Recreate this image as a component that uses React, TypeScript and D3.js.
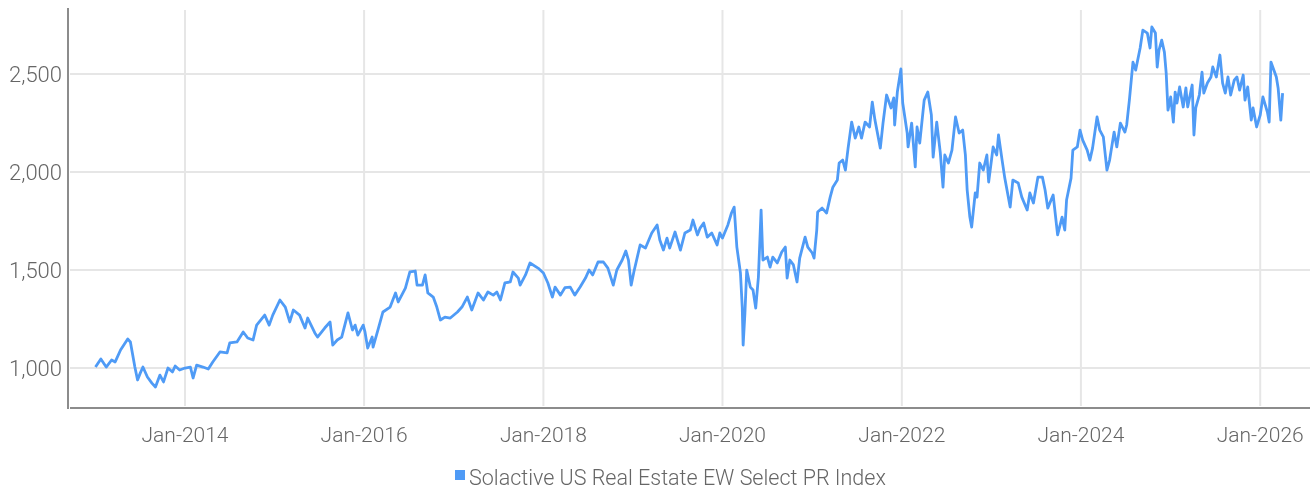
import { useEffect, useRef } from 'react';
import * as d3 from 'd3';

// dates as decimal years
const dates = [
  2013.0, 2013.06, 2013.12, 2013.18, 2013.22, 2013.28, 2013.36, 2013.39, 2013.44, 2013.47,
  2013.5, 2013.53, 2013.58, 2013.63, 2013.67, 2013.72, 2013.76, 2013.81, 2013.86, 2013.89,
  2013.94, 2014.0, 2014.06, 2014.09, 2014.13, 2014.2, 2014.26, 2014.31, 2014.39, 2014.47,
  2014.5, 2014.58, 2014.65, 2014.7, 2014.76, 2014.8, 2014.89, 2014.94, 2014.98, 2015.06,
  2015.12, 2015.17, 2015.21, 2015.28, 2015.34, 2015.37, 2015.45, 2015.48, 2015.56, 2015.62,
  2015.65, 2015.7, 2015.75, 2015.82, 2015.87, 2015.9, 2015.93, 2015.99, 2016.01, 2016.04,
  2016.09, 2016.1, 2016.16, 2016.21, 2016.29, 2016.35, 2016.38, 2016.46, 2016.51, 2016.57,
  2016.59, 2016.65, 2016.68, 2016.71, 2016.77, 2016.81, 2016.85, 2016.9, 2016.96, 2017.04,
  2017.09, 2017.15, 2017.2, 2017.27, 2017.33, 2017.38, 2017.44, 2017.48, 2017.52, 2017.57,
  2017.63, 2017.66, 2017.72, 2017.74, 2017.8, 2017.85, 2017.94, 2018.0, 2018.05, 2018.1,
  2018.13, 2018.19, 2018.24, 2018.3, 2018.35, 2018.41, 2018.47, 2018.51, 2018.55, 2018.61,
  2018.67, 2018.72, 2018.78, 2018.82, 2018.88, 2018.92, 2018.95, 2018.98, 2019.01, 2019.08,
  2019.14, 2019.21, 2019.27, 2019.3, 2019.34, 2019.38, 2019.41, 2019.47, 2019.53, 2019.58,
  2019.64, 2019.67, 2019.72, 2019.75, 2019.79, 2019.83, 2019.88, 2019.94, 2019.97, 2020.0,
  2020.06, 2020.1, 2020.13, 2020.16, 2020.2, 2020.22, 2020.23, 2020.25, 2020.27, 2020.31,
  2020.34, 2020.37, 2020.4, 2020.43, 2020.45, 2020.5, 2020.53, 2020.56, 2020.61, 2020.66,
  2020.7, 2020.72, 2020.75, 2020.79, 2020.83, 2020.86, 2020.92, 2020.95, 2021.0, 2021.02,
  2021.05, 2021.06, 2021.11, 2021.16, 2021.2, 2021.23, 2021.28, 2021.3, 2021.34, 2021.37,
  2021.4, 2021.44, 2021.48, 2021.52, 2021.55, 2021.59, 2021.64, 2021.67, 2021.7, 2021.76,
  2021.79, 2021.83, 2021.88, 2021.91, 2021.92, 2021.95, 2021.99, 2022.01, 2022.06, 2022.07,
  2022.11, 2022.15, 2022.17, 2022.2, 2022.25, 2022.29, 2022.33, 2022.35, 2022.39, 2022.43,
  2022.46, 2022.48, 2022.52, 2022.56, 2022.6, 2022.64, 2022.68, 2022.71, 2022.73, 2022.76,
  2022.78, 2022.82, 2022.84, 2022.87, 2022.91, 2022.95, 2022.97, 2023.02, 2023.06, 2023.08,
  2023.12, 2023.15, 2023.21, 2023.24, 2023.3, 2023.34, 2023.4, 2023.43, 2023.47, 2023.52,
  2023.57, 2023.6, 2023.63, 2023.69, 2023.74, 2023.79, 2023.82, 2023.84, 2023.89, 2023.91,
  2023.96, 2023.99, 2024.02, 2024.07, 2024.1, 2024.13, 2024.18, 2024.21, 2024.25, 2024.29,
  2024.32, 2024.37, 2024.4, 2024.44, 2024.49, 2024.51, 2024.54, 2024.58, 2024.61, 2024.66,
  2024.69, 2024.74, 2024.77, 2024.79, 2024.83, 2024.85, 2024.87, 2024.9, 2024.93, 2024.95,
  2024.97, 2025.0, 2025.03, 2025.05, 2025.07, 2025.1, 2025.14, 2025.17, 2025.19, 2025.24,
  2025.26, 2025.28, 2025.32, 2025.35, 2025.37, 2025.41, 2025.45, 2025.47, 2025.51, 2025.55,
  2025.58, 2025.61, 2025.64, 2025.67, 2025.71, 2025.74, 2025.77, 2025.81, 2025.83, 2025.86,
  2025.9, 2025.92, 2025.96, 2026.0, 2026.03, 2026.08, 2026.1, 2026.12, 2026.14, 2026.18,
  2026.2, 2026.23, 2026.25,
];

const indexValues = [
  1005, 1046, 1005, 1041, 1031, 1092, 1148, 1133, 1005, 939,
  974, 1005, 954, 923, 903, 964, 929, 1000, 980, 1010,
  990, 1000, 1005, 949, 1015, 1005, 995, 1031, 1082, 1077,
  1128, 1133, 1184, 1153, 1143, 1219, 1270, 1219, 1270, 1347,
  1311, 1235, 1296, 1270, 1204, 1255, 1179, 1158, 1204, 1235,
  1117, 1143, 1158, 1281, 1194, 1219, 1168, 1219, 1184, 1102,
  1158, 1107, 1204, 1286, 1311, 1383, 1337, 1408, 1490, 1495,
  1423, 1423, 1475, 1383, 1362, 1311, 1245, 1260, 1255, 1286,
  1311, 1362, 1296, 1383, 1347, 1388, 1372, 1388, 1347, 1434,
  1439, 1490, 1459, 1423, 1475, 1536, 1510, 1485, 1434, 1362,
  1413, 1372, 1410, 1413, 1372, 1413, 1459, 1500, 1475, 1541,
  1541, 1510, 1423, 1500, 1551, 1597, 1551, 1423, 1490, 1628,
  1612, 1689, 1730, 1653, 1602, 1663, 1612, 1694, 1602, 1689,
  1704, 1755, 1679, 1714, 1740, 1668, 1689, 1628, 1689, 1663,
  1730, 1791, 1821, 1617, 1485, 1311, 1117, 1281, 1500, 1413,
  1398, 1306, 1464, 1806, 1551, 1566, 1515, 1566, 1536, 1592,
  1617, 1459, 1551, 1526, 1439, 1561, 1668, 1617, 1587, 1561,
  1704, 1796, 1816, 1791, 1872, 1923, 1959, 2046, 2061, 2010,
  2122, 2255, 2173, 2230, 2173, 2255, 2230, 2357, 2265, 2122,
  2250, 2393, 2327, 2378, 2240, 2408, 2526, 2352, 2199, 2128,
  2250, 2026, 2230, 2148, 2367, 2408, 2291, 2076, 2255, 2097,
  1923, 2087, 2046, 2112, 2281, 2199, 2214, 2087, 1908, 1770,
  1719, 1893, 1872, 2046, 2010, 2087, 1949, 2128, 2087, 2189,
  2061, 1969, 1821, 1959, 1944, 1872, 1806, 1893, 1842, 1974,
  1974, 1908, 1816, 1883, 1679, 1770, 1704, 1857, 1969, 2112,
  2128, 2214, 2163, 2112, 2061, 2122, 2281, 2214, 2179, 2010,
  2061, 2204, 2128, 2250, 2204, 2240, 2367, 2561, 2520, 2633,
  2724, 2709, 2633, 2740, 2709, 2536, 2622, 2673, 2612, 2505,
  2316, 2383, 2255, 2408, 2352, 2434, 2332, 2429, 2332, 2444,
  2189, 2327, 2393, 2510, 2403, 2454, 2485, 2536, 2485, 2597,
  2454, 2403, 2485, 2393, 2469, 2485, 2418, 2495, 2367, 2434,
  2265, 2327, 2230, 2291, 2383, 2306, 2255, 2561, 2536, 2485,
  2429, 2265, 2403,
];

const yTicks = [1000, 1500, 2000, 2500];
const xTickYears = [2014, 2016, 2018, 2020, 2022, 2024, 2026];
const seriesName = 'Solactive US Real Estate EW Select PR Index';

const toDate = (t: number) => {
  const y = Math.floor(t);
  const start = new Date(y, 0, 1).getTime();
  const end = new Date(y + 1, 0, 1).getTime();
  return new Date(start + (t - y) * (end - start));
};

const FONT = "Roboto, 'Liberation Sans', sans-serif";
const LINE = '#4f9bf6';

const App = () => {
  const ref = useRef<SVGSVGElement>(null);

  useEffect(() => {
    const width = 1313;
    const height = 490;
    const svg = d3.select(ref.current);
    svg.selectAll('*').remove();

    const x = d3
      .scaleTime()
      .domain([toDate(2012.694), toDate(2026.556)])
      .range([68, 1310]);

    const y = d3.scaleLinear().domain([796, 2837]).range([408, 8]);

    // grid
    svg
      .append('g')
      .selectAll('line')
      .data(yTicks)
      .join('line')
      .attr('x1', 70)
      .attr('x2', 1310)
      .attr('y1', (d) => y(d))
      .attr('y2', (d) => y(d))
      .attr('stroke', '#e6e6e6')
      .attr('stroke-width', 2);

    svg
      .append('g')
      .selectAll('line')
      .data(xTickYears)
      .join('line')
      .attr('x1', (d) => x(new Date(d, 0, 1)))
      .attr('x2', (d) => x(new Date(d, 0, 1)))
      .attr('y1', 10)
      .attr('y2', 406)
      .attr('stroke', '#e6e6e6')
      .attr('stroke-width', 2);

    // axes lines
    svg
      .append('line')
      .attr('x1', 68)
      .attr('x2', 68)
      .attr('y1', 8)
      .attr('y2', 409)
      .attr('stroke', '#8c8c8c')
      .attr('stroke-width', 2);
    svg
      .append('line')
      .attr('x1', 70)
      .attr('x2', 1310)
      .attr('y1', 408)
      .attr('y2', 408)
      .attr('stroke', '#8c8c8c')
      .attr('stroke-width', 2);

    // tick labels
    const fmt = d3.format(',');
    svg
      .append('g')
      .selectAll('text')
      .data(yTicks)
      .join('text')
      .attr('x', 62)
      .attr('y', (d) => y(d))
      .attr('dy', '0.35em')
      .attr('text-anchor', 'end')
      .attr('font-family', FONT)
      .attr('font-weight', 300)
      .attr('font-size', 22)
      .attr('fill', '#666')
      .text((d) => fmt(d));

    const tfmt = d3.timeFormat('%b-%Y');
    svg
      .append('g')
      .selectAll('text')
      .data(xTickYears)
      .join('text')
      .attr('x', (d) => x(new Date(d, 0, 1)))
      .attr('y', 442)
      .attr('text-anchor', 'middle')
      .attr('font-family', FONT)
      .attr('font-weight', 300)
      .attr('font-size', 21)
      .attr('fill', '#666')
      .text((d) => tfmt(new Date(d, 0, 1)));

    // series
    const data = dates.map((t, i) => ({ date: toDate(t), value: indexValues[i] }));
    const line = d3
      .line<{ date: Date; value: number }>()
      .x((d) => x(d.date))
      .y((d) => y(d.value));

    svg
      .append('path')
      .datum(data)
      .attr('fill', 'none')
      .attr('stroke', LINE)
      .attr('stroke-width', 2.8)
      .attr('stroke-linejoin', 'round')
      .attr('d', line);

    // legend
    const lg = svg.append('g');
    lg.append('rect')
      .attr('x', 455)
      .attr('y', 470)
      .attr('width', 10)
      .attr('height', 10)
      .attr('fill', LINE);
    lg.append('text')
      .attr('x', 469)
      .attr('y', 485)
      .attr('font-family', FONT)
      .attr('font-weight', 300)
      .attr('font-size', 21.5)
      .attr('fill', '#666')
      .text(seriesName);

    svg.attr('width', width).attr('height', height);
  }, []);

  return (
    <svg
      ref={ref}
      style={{ display: 'block', position: 'fixed', left: 0, top: 0 }}
    />
  );
};

export default App;
